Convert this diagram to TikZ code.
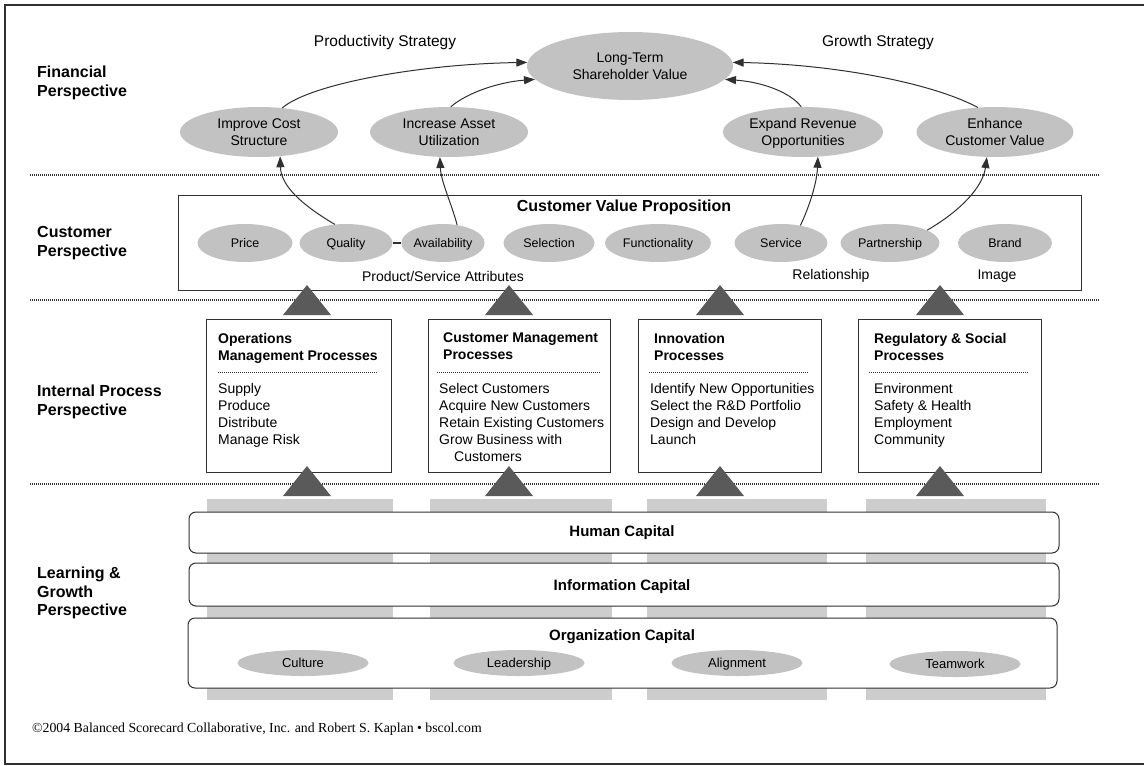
\documentclass[tikz,border=0pt]{standalone}
\usepackage{fontspec}
\setmainfont{Liberation Sans}
\newfontfamily\serifft{Liberation Serif}
\usetikzlibrary{shapes.geometric,arrows.meta}
\definecolor{ellgray}{HTML}{C2C2C2}
\definecolor{bargray}{HTML}{CDCDCD}
\definecolor{trigray}{HTML}{5A5A5A}
\definecolor{linec}{HTML}{303030}
\newcommand\ehi{\vrule height 13pt depth 0pt width 0pt}
\newcommand\elo{\vrule height 0pt depth 3.5pt width 0pt}
\begin{document}
\begin{tikzpicture}[x=1pt,y=-1pt,
 ell/.style={ellipse, fill=ellgray, inner sep=0pt, align=center, minimum width=158pt, minimum height=50pt, font=\fontsize{14}{17}\selectfont},
 cell/.style={ellipse, fill=ellgray, inner sep=0pt, minimum height=38pt, font=\fontsize{12.5}{15}\selectfont, text height=9pt, text depth=0pt},
 kell/.style={ellipse, fill=ellgray, inner sep=0pt, minimum width=131pt, minimum height=26pt, font=\fontsize{13}{15}\selectfont, text height=9.4pt, text depth=0pt},
 persp/.style={anchor=north west, align=left, inner sep=0pt, font=\fontsize{16}{19}\selectfont\bfseries},
 sep/.style={draw=linec, line width=1.3pt, dash pattern=on 1pt off 1pt},
 insep/.style={draw=linec, line width=1pt, dash pattern=on 1pt off 1pt},
 procbox/.style={draw=linec, line width=1pt},
 ptitle/.style={anchor=north west, align=left, inner sep=0pt, font=\fontsize{14}{17}\selectfont\bfseries},
 pitems/.style={anchor=north west, align=left, inner sep=0pt, font=\fontsize{14}{17}\selectfont},
 capbox/.style={draw=linec, line width=1pt, rounded corners=7pt, fill=white},
 captext/.style={font=\fontsize{15}{18}\selectfont\bfseries},
 arr/.style={draw=linec, line width=1pt, -{Triangle[length=11pt,width=8pt]}},
 tri/.style={fill=trigray},
 bar/.style={fill=bargray},
 lab/.style={font=\fontsize{14}{17}\selectfont},
]
\useasboundingbox (0,0) rectangle (1144,766);
\fill[white] (0,0) rectangle (1144,766);
% frame
\draw[linec, line width=1.6pt] (1144,5) -- (5,5);
\draw[linec, line width=1.6pt] (5,764) -- (1144,764);
\draw[linec, line width=2.6pt] (5,4) -- (5,765);

% perspective labels
\node[persp] (pfin) at (37,66) {Financial\\Perspective};
\node[persp] (pcus) at (37,226) {Customer\\Perspective};
\node[persp] (pint) at (37,385) {Internal Process\\Perspective};
\node[persp, font=\fontsize{16}{18.5}\selectfont\bfseries] (plg) at (37,567) {Learning \&\\Growth\\Perspective};

% separators
\draw[sep] (30,175) -- (1100,175);
\draw[sep] (30,300) -- (1100,300);
\draw[sep] (30,484) -- (1100,484);

% financial
\node[font=\fontsize{15.5}{18}\selectfont] (prod) at (385,42) {Productivity Strategy};
\node[font=\fontsize{15.5}{18}\selectfont] (grow) at (878,42) {Growth Strategy};
\node[ell, minimum width=206pt, minimum height=68pt] (ltsv) at (630,66) {\ehi Long-Term\\Shareholder Value\elo};
\node[ell] (ics) at (259,132) {\ehi Improve Cost\\Structure\elo};
\node[ell] (ias) at (449,132) {\ehi Increase Asset\\Utilization\elo};
\node[ell, minimum width=160pt] (ero) at (803,132) {\ehi Expand Revenue\\Opportunities\elo};
\node[ell, minimum width=157pt] (ecv) at (995,132) {\ehi Enhance\\Customer Value\elo};

\draw[arr] (ics.46) .. controls (310,84) and (420,64) .. (ltsv.178);
\draw[arr] (ias.86) .. controls (468,92) and (500,82) .. (ltsv.188);
\draw[arr] (ero.94) .. controls (790,92) and (762,82) .. (ltsv.352);
\draw[arr] (ecv.125) .. controls (930,82) and (830,64) .. (ltsv.2);

% customer
\node[draw=linec, line width=0.9pt, minimum width=903pt, minimum height=95pt, inner sep=0pt] (cvp) at (629.5,242.5) {};
\node[font=\fontsize{16}{19}\selectfont\bfseries] (cvpt) at (624,207) {Customer Value Proposition};
\node[cell, minimum width=95pt] (price) at (245,243) {Price};
\node[cell, minimum width=93pt] (qual) at (346,243) {Quality};
\node[cell, minimum width=83pt] (avail) at (443,243) {Availability};
\node[cell, minimum width=91pt] (sel) at (549,243) {Selection};
\node[cell, minimum width=106pt] (func) at (658,243) {Functionality};
\node[cell, minimum width=93pt] (serv) at (781,243) {Service};
\node[cell, minimum width=99pt] (part) at (890,243) {Partnership};
\node[cell, minimum width=94pt] (brand) at (1005,243) {Brand};
\draw[linec, line width=1.2pt] (qual.east) -- (avail.west);
\node[lab] (psa) at (443,276) {Product/Service Attributes};
\node[lab] (rel) at (831,276) {Relationship};
\node[lab] (img) at (997,276) {Image};

\draw[arr] (qual.121) .. controls (302,205) and (281,186) .. (ics.311);
\draw[arr] (avail.52) .. controls (451,202) and (441,182) .. (ias.250);
\draw[arr] (serv.42) .. controls (810,205) and (817,182) .. (ero.301);
\draw[arr] (part.19) .. controls (962,210) and (983,186) .. (ecv.252);

% upper triangles
\foreach \tx in {307,509,720,940}{
  \fill[tri] (\tx,285) -- (\tx-24,315) -- (\tx+24,315) -- cycle;
}

% internal processes
\node[procbox, minimum width=185pt, minimum height=153pt, inner sep=0pt] (ops) at (298.5,395.5) {};
\node[procbox, minimum width=182pt, minimum height=153pt, inner sep=0pt] (cmp) at (519,395.5) {};
\node[procbox, minimum width=183pt, minimum height=153pt, inner sep=0pt] (inn) at (729.5,395.5) {};
\node[procbox, minimum width=183pt, minimum height=153pt, inner sep=0pt] (reg) at (949.5,395.5) {};

\node[ptitle] (opst) at (218,333) {Operations\\Management Processes};
\node[ptitle] (cmpt) at (443,333) {Customer Management\\Processes};
\node[ptitle] (innt) at (654,333) {Innovation\\Processes};
\node[ptitle] (regt) at (874,333) {Regulatory \& Social\\Processes};

\draw[insep] (218,372) -- (378,372);
\draw[insep] (437,372) -- (600,372);
\draw[insep] (649,372) -- (809,372);
\draw[insep] (869,372) -- (1028,372);

\node[pitems] (opsi) at (218,383) {Supply\\Produce\\Distribute\\Manage Risk};
\node[pitems] (cmpi) at (439,383) {Select Customers\\Acquire New Customers\\Retain Existing Customers\\Grow Business with\\\hspace*{15pt}Customers};
\node[pitems] (inni) at (650,383) {Identify New Opportunities\\Select the R\&D Portfolio\\Design and Develop\\Launch};
\node[pitems] (regi) at (874,383) {Environment\\Safety \& Health\\Employment\\Community};

% lower triangles
\foreach \tx in {307,509,720,940}{
  \fill[tri] (\tx,466) -- (\tx-24,496) -- (\tx+24,496) -- cycle;
}

% learning & growth
\fill[bar] (207,499) rectangle (393,700);
\fill[bar] (430,499) rectangle (612,700);
\fill[bar] (647,499) rectangle (827,700);
\fill[bar] (866,499) rectangle (1046,700);

\node[capbox, minimum width=870pt, minimum height=41pt, inner sep=0pt] (hc) at (624,532.5) {};
\node[capbox, minimum width=870pt, minimum height=43pt, inner sep=0pt] (ic) at (624,584.5) {};
\node[capbox, minimum width=869pt, minimum height=70pt, inner sep=0pt] (oc) at (622.5,653) {};
\node[captext] (hct) at (622,533) {Human Capital};
\node[captext] (ict) at (622,587) {Information Capital};
\node[captext] (oct) at (622,637) {Organization Capital};
\node[kell] (cult) at (303,663) {Culture};
\node[kell] (lead) at (519,663) {Leadership};
\node[kell] (align) at (737,663) {Alignment};
\node[kell] (team) at (955,664) {Teamwork};

% footer
\node[anchor=base west, inner sep=0pt, font=\serifft\fontsize{13.8}{16}\selectfont] (foot) at (32,732) {©2004 Balanced Scorecard Collaborative, Inc. and Robert S. Kaplan • bscol.com};
\end{tikzpicture}
\end{document}
